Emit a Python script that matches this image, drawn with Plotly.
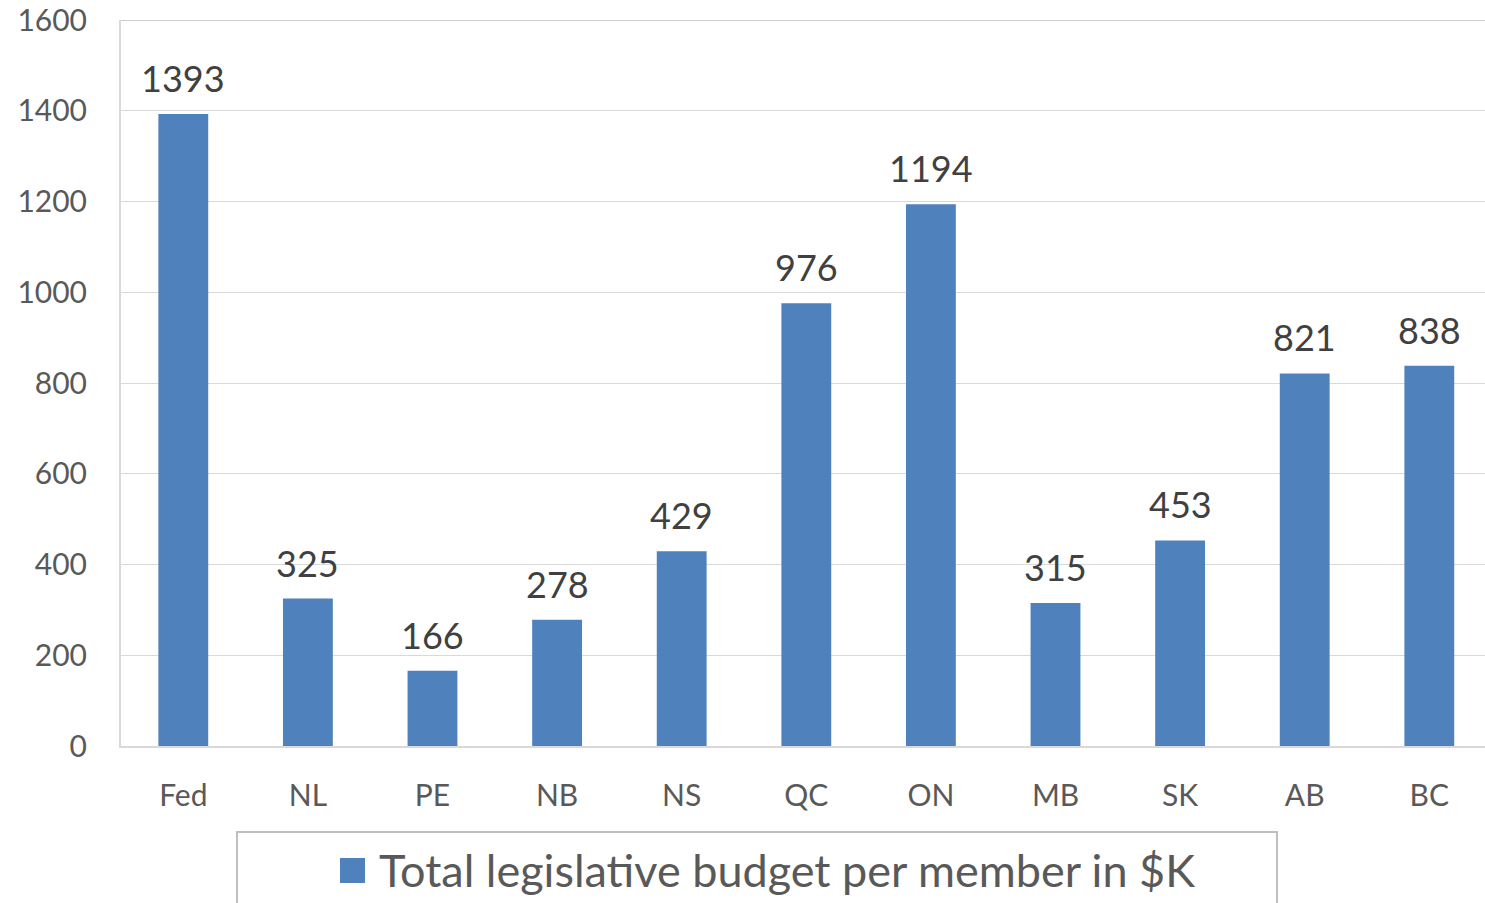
import plotly.graph_objects as go

regions = ["Fed", "NL", "PE", "NB", "NS", "QC", "ON", "MB", "SK", "AB", "BC"]
budget_per_member = [1393, 325, 166, 278, 429, 976, 1194, 315, 453, 821, 838]
series_name = "Total legislative budget per member in $K"
y_ticks = [0, 200, 400, 600, 800, 1000, 1200, 1400, 1600]

BAR_COLOR = "#4F81BD"
TEXT_COLOR = "#595959"
GRID_COLOR = "#D9D9D9"
FONT = "Lato"

# plot area in pixels
L, T, W, H = 121, 20, 1364, 726

fig = go.Figure()
fig.add_trace(go.Bar(x=regions,
                     y=budget_per_member,
                     name=series_name,
                     marker=dict(color=BAR_COLOR, line=dict(width=0)),
                     width=0.4,
                     showlegend=False))

# value labels above the bars
for r, v in zip(regions, budget_per_member):
    fig.add_annotation(x=r, y=v, text=str(v),
                       showarrow=False, yanchor="bottom", yshift=12,
                       font=dict(size=36, color="#404040", family=FONT))

fig.update_layout(width=1485,
                  height=903,
                  margin=dict(l=L, r=1485 - L - W, t=T, b=903 - T - H, autoexpand=False),
                  plot_bgcolor="white",
                  paper_bgcolor="white",
                  font=dict(family=FONT, color=TEXT_COLOR, size=30),
                  showlegend=False)

fig.update_xaxes(range=[-0.5, 10.447],
                 showline=True, linecolor=GRID_COLOR, linewidth=2,
                 ticks="", ticklabelstandoff=22,
                 tickfont=dict(size=30, color=TEXT_COLOR),
                 showgrid=False, automargin=False)
fig.update_yaxes(range=[0, 1600],
                 tickvals=y_ticks,
                 showline=True, linecolor=GRID_COLOR, linewidth=2,
                 gridcolor=GRID_COLOR, gridwidth=1,
                 ticks="", ticklabelstandoff=26,
                 tickfont=dict(size=30, color=TEXT_COLOR),
                 zeroline=False, automargin=False)

# top gridline at the edge of the plot area
fig.add_shape(type="line", xref="paper", yref="y",
              x0=0, x1=1, y0=y_ticks[-1], y1=y_ticks[-1],
              line=dict(color="#CCCCCC", width=2), layer="below")


# legend: frame, swatch and label
def px_x(x):
    return (x - L) / W


def px_y(y):
    return (T + H - y) / H


fig.add_shape(type="rect", xref="paper", yref="paper",
              x0=px_x(237), x1=px_x(1277), y0=px_y(920), y1=px_y(832),
              line=dict(color="#BFBFBF", width=2), fillcolor="rgba(0,0,0,0)")
fig.add_shape(type="rect", xref="paper", yref="paper",
              x0=px_x(340), x1=px_x(365), y0=px_y(883), y1=px_y(858),
              line=dict(width=0), fillcolor=BAR_COLOR)
fig.add_annotation(x=px_x(377), y=px_y(870), xref="paper", yref="paper",
                   text=series_name, showarrow=False,
                   xanchor="left", yanchor="middle",
                   font=dict(size=45, color=TEXT_COLOR, family=FONT))

# page has a default body margin; drop it so the chart sits at the top-left corner
fig.write_html("out.html",
               config={"displayModeBar": False},
               post_script="document.body.style.margin='0';document.body.style.overflow='hidden';")
